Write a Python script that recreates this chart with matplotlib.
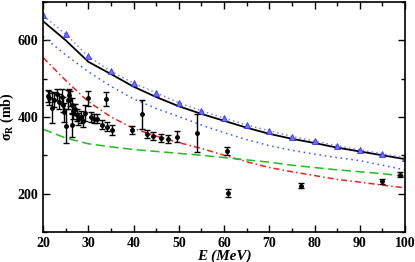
import matplotlib
matplotlib.use('Agg')
import matplotlib.pyplot as plt
from matplotlib.ticker import MultipleLocator

# energies for the model curves
e_curve = [20, 25, 30, 35, 40, 45, 50, 55, 60, 65, 70, 75, 80, 85, 90, 95, 100]

# solid black model
sig_solid = [650, 600, 544, 512, 479, 452, 428, 408, 390, 372, 356, 343, 332, 320, 310, 300, 290]
# lower blue dotted model
sig_blue = [610, 562, 518, 480, 447, 422, 401, 379, 359, 341, 325, 313, 303, 294, 286, 274, 262]
# red dash-dot model
sig_red = [555, 495, 440, 400, 370, 350, 333, 318, 300, 283, 268, 257, 247, 237, 230, 222, 215]
# green dashed model
sig_green = [368, 345, 330, 322, 315, 310, 305, 300, 294, 288, 282, 274, 268, 262, 257, 252, 245]
# upper dotted model with triangles
sig_tri = [665, 616, 558, 519, 488, 463, 437, 416, 397, 379, 364, 349, 337, 325, 314, 304, 294]

# measured data
e_data = [21.0, 21.4, 22.0, 22.5, 23.0, 23.5, 24.1, 24.4, 24.7, 25.0, 25.4, 25.8, 26.0,
          26.3, 26.3, 26.6, 27.0, 27.4, 27.8, 28.3, 28.8, 29.3, 30.0, 30.5, 31.2,
          32.0, 33.0, 33.8, 34.2, 35.3, 39.7, 41.9, 42.9, 44.3, 46.0, 47.7, 49.5,
          54.0, 60.7, 60.9, 77.0, 94.9, 98.9]
sig_data = [455, 450, 423, 445, 459, 440, 453, 432, 412, 377, 445, 457, 448,
            430, 379, 415, 420, 405, 395, 400, 390, 410, 449, 400, 395,
            395, 380, 447, 375, 366, 366, 407, 355, 350, 345, 342, 349,
            358, 312, 202, 221, 232, 249]
err_data = [15, 18, 40, 20, 15, 20, 20, 20, 25, 45, 25, 15, 20,
            20, 30, 20, 15, 15, 15, 15, 15, 20, 20, 12, 12,
            12, 12, 18, 12, 12, 10, 38, 10, 10, 10, 10, 15,
            50, 10, 10, 7, 7, 7]

plt.rcParams['font.family'] = ['Liberation Serif', 'DejaVu Serif']
plt.rcParams['font.weight'] = 'bold'
plt.rcParams['mathtext.fontset'] = 'custom'
plt.rcParams['mathtext.rm'] = 'Liberation Serif:bold'
plt.rcParams['mathtext.it'] = 'Liberation Serif:bold'

fig = plt.figure(figsize=(4.15, 2.62), dpi=100)
ax = fig.add_axes([0.104, 0.115, 0.872, 0.877])

ax.plot(e_curve, sig_solid, color='black', lw=1.3)
ax.plot(e_curve, sig_blue, color='#3355ee', lw=1.1, linestyle=(0, (1, 2.5)))
ax.plot(e_curve, sig_red, color='#ee2222', lw=1.1, linestyle=(0, (4, 2, 1, 2)))
ax.plot(e_curve, sig_green, color='#22bb22', lw=1.1, linestyle=(0, (6, 3)))
ax.plot(e_curve, sig_tri, color='#8080ff', lw=1.1, linestyle=(0, (1, 2)),
        marker='^', markersize=4, markerfacecolor='#7070ff', markeredgecolor='#3333ee',
        markeredgewidth=0.6)

ax.errorbar(e_data, sig_data, yerr=err_data, fmt='o', color='black', markersize=2.5,
            elinewidth=1.0, capsize=2.5, capthick=1.0)

ax.set_xlim(20, 100)
ax.set_ylim(100, 700)
ax.xaxis.set_major_locator(MultipleLocator(10))
ax.xaxis.set_minor_locator(MultipleLocator(5))
ax.set_yticks([200, 400, 600])
ax.yaxis.set_minor_locator(MultipleLocator(100))
ax.tick_params(which='both', direction='in', top=True, right=True, labelsize=10)
ax.tick_params(which='major', length=5, width=1)
ax.tick_params(which='minor', length=3, width=1)
for lab in ax.get_xticklabels() + ax.get_yticklabels():
    lab.set_fontweight('bold')
for sp in ax.spines.values():
    sp.set_linewidth(1.2)

ax.set_xlabel('E (MeV)', fontsize=11, fontweight='bold', fontstyle='italic', labelpad=0)
ax.set_ylabel(r'$\sigma_{\rm R}$ (mb)', fontsize=10, fontweight='bold', labelpad=1)

fig.savefig('out.png', dpi=100)
